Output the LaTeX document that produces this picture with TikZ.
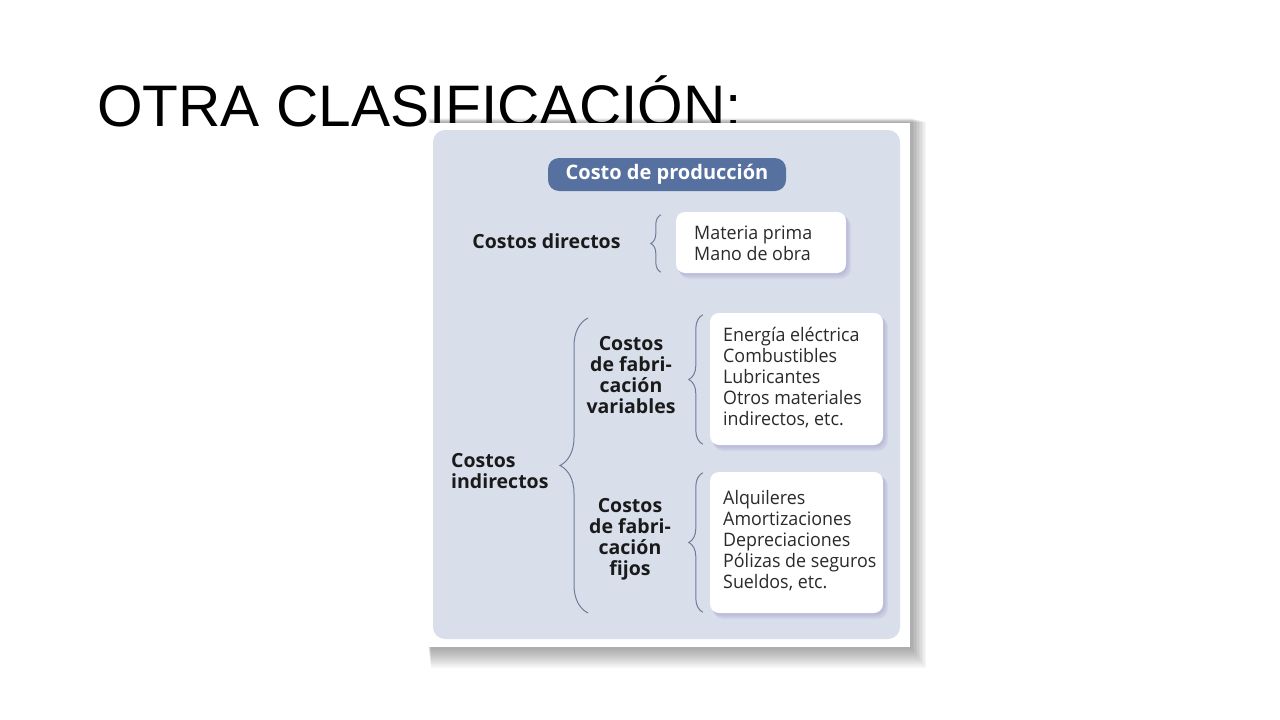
\documentclass[tikz,border=0pt]{standalone}
\usepackage{fontspec}
\setmainfont{Open Sans}
\newfontfamily\itemfont[FakeStretch=0.96]{Open Sans}
\newfontfamily\titlefont{Liberation Sans}
\usetikzlibrary{decorations.pathreplacing,calc}
\definecolor{panelbg}{HTML}{D8DFEB}
\definecolor{pillblue}{HTML}{5670A0}
\definecolor{bracecol}{HTML}{6E7C98}
\definecolor{txt}{HTML}{1A1A1A}
\definecolor{itemcol}{HTML}{2A2A2A}
\definecolor{boxshadow}{HTML}{8A80B8}
\newcommand\myboxshadow[4]{%
  \foreach \k in {1,...,5}{%
    \fill[boxshadow, opacity=0.09, rounded corners=10pt]
      (#1+\k*0.6, #2+\k*0.8) rectangle (#3+\k*1.0, #4+\k*1.2);}}
\begin{document}
\begin{tikzpicture}[x=1pt,y=-1pt,
  lbl/.style={font=\fontsize{19.5}{21}\selectfont\bfseries, text=txt, align=center, inner sep=0pt},
  itemtxt/.style={font=\itemfont\fontsize{18.6}{21}\selectfont, text=itemcol, align=left, inner sep=0pt, anchor=west},
  whitebox/.style={fill=white, rounded corners=9pt, draw=none, inner sep=0pt},
  cbrace/.style={draw=bracecol, line width=1pt, decorate, decoration={brace, amplitude=#1}},
]
\useasboundingbox (0,0) rectangle (1280,720);
\fill[white] (0,0) rectangle (1280,720);

% title
\node[anchor=base west, font=\titlefont\fontsize{58.6}{60}\selectfont, inner sep=0pt] (title) at (97,126) {OTRA CLASIFICACIÓN:};

% panel shadow
\foreach \k in {1,...,10}{
  \fill[black, opacity=0.035] (428+\k*0.3, 118+\k*0.4) rectangle (911+\k*1.5, 648+\k*2);
}
\fill[white] (425,123) rectangle (910,647);
\fill[panelbg, rounded corners=12pt] (433,130) rectangle (900,639);

% header pill
\node[fill=pillblue, rounded corners=11pt, minimum width=238pt, minimum height=33pt, inner sep=0pt,
      font=\fontsize{20}{21}\selectfont\bfseries, text=white] (pill) at (667,174.5) {Costo de producción};

% direct costs
\node[lbl] (cd) at (546.5,241) {Costos directos};
\myboxshadow{676}{212}{846}{273}
\node[whitebox, minimum width=170pt, minimum height=61pt] (b1) at (761,242.5) {};
\node[itemtxt] (t1) at (694,243) {Materia prima\\Mano de obra};
\draw[cbrace=10pt] ($(b1.south west)+(-15,-1)$) -- ($(b1.north west)+(-15,3)$);

% indirect costs
\node[lbl, align=left, anchor=west] (ci) at (451,471) {Costos\\indirectos};
\node[lbl] (cv) at (631,375) {Costos\\de fabri-\\cación\\variables};
\node[lbl] (cf) at (630,539) {Costos\\de fabri-\\cación\\fijos};

\myboxshadow{710}{313}{883}{445}
\node[whitebox, minimum width=173pt, minimum height=132pt] (b2) at (796.5,379) {};
\node[itemtxt] (t2) at (723,378) {Energía eléctrica\\Combustibles\\Lubricantes\\Otros materiales\\indirectos, etc.};

\myboxshadow{710}{472}{883}{613}
\node[whitebox, minimum width=173pt, minimum height=141pt] (b3) at (796.5,542.5) {};
\node[itemtxt] (t3) at (723,541) {Alquileres\\Amortizaciones\\Depreciaciones\\Pólizas de seguros\\Sueldos, etc.};

\draw[cbrace=14pt] ($(b2.south west)+(-7,-1)$) -- ($(b2.north west)+(-7,2)$);
\draw[cbrace=14pt] ($(b3.south west)+(-7,-1)$) -- ($(b3.north west)+(-7,1)$);

\coordinate (bigtop) at (588,318);
\coordinate (bigbot) at (588,613);
\draw[cbrace=28pt] (bigbot) -- (bigtop);
\end{tikzpicture}
\end{document}
